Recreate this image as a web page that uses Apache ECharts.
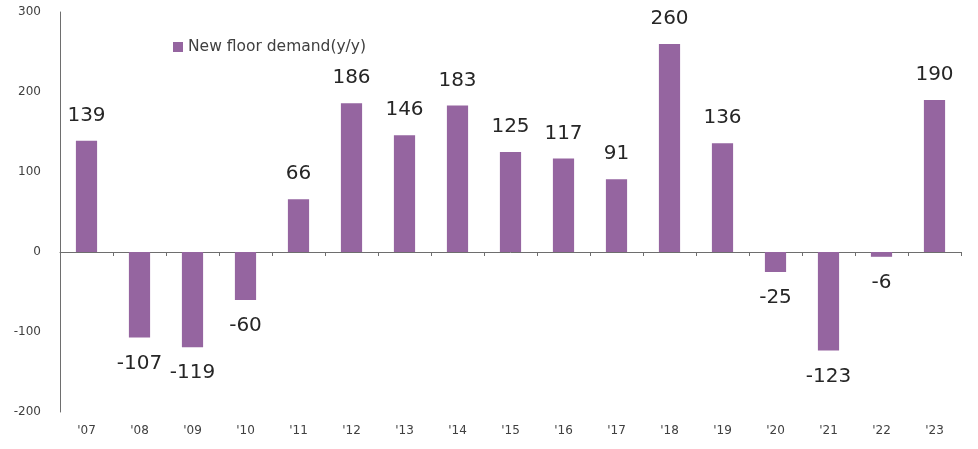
<!DOCTYPE html>
<html><head><meta charset="utf-8">
<script src="https://cdn.jsdelivr.net/npm/echarts@6/dist/echarts.min.js"></script>
<style>html,body{margin:0;padding:0;background:#fff}#c{width:978px;height:449px}</style>
</head><body><div id="c"></div>
<script>
const categories = ["'07","'08","'09","'10","'11","'12","'13","'14","'15","'16","'17","'18","'19","'20","'21","'22","'23"];
const seriesName = "New floor demand(y/y)";
const values = [139,-107,-119,-60,66,186,146,183,125,117,91,260,136,-25,-123,-6,190];
const yMin = -200, yMax = 300, yStep = 100;

const FONT = "DejaVu Sans";
const chart = echarts.init(document.getElementById('c'), null, {renderer:'canvas'});
chart.setOption({
  animation:false,
  textStyle:{fontFamily:FONT},
  legend:{
    left:168, top:34, itemWidth:10, itemHeight:10, itemGap:6,
    icon:'rect',
    textStyle:{fontFamily:FONT, fontSize:15.5, color:'#404040'},
    data:[seriesName]
  },
  grid:{left:60, right:17, top:12, bottom:37, containLabel:false, outerBoundsMode:'none'},
  xAxis:[{
    type:'category', data:categories, position:'bottom',
    axisLine:{show:false, onZero:false},
    axisTick:{show:false},
    axisLabel:{margin:13, fontFamily:FONT, fontSize:12, color:'#404040'},
    splitLine:{show:false}
  },{
    type:'category', data:categories, position:'top',
    axisLine:{show:true, onZero:true, lineStyle:{color:'#6e6e6e', width:1}},
    axisTick:{show:true, inside:true, length:4, lineStyle:{color:'#6e6e6e'}},
    axisLabel:{show:false},
    splitLine:{show:false}
  }],
  yAxis:{
    type:'value', min:yMin, max:yMax, interval:yStep,
    axisLine:{show:true, lineStyle:{color:'#6e6e6e', width:1}},
    axisTick:{show:false},
    axisLabel:{margin:19, fontFamily:FONT, fontSize:12, color:'#404040'},
    splitLine:{show:false}
  },
  series:[{
    name:seriesName, type:'bar', barWidth:'40%', xAxisIndex:0,
    itemStyle:{color:'#9565a0'},
    data: values.map(v => ({
      value:v,
      label:{show:true, position: v < 0 ? 'bottom' : 'top', distance: v < 0 ? 16 : 15,
        fontFamily:FONT, fontSize:20, color:'#262626'}
    }))
  }]
});
</script></body></html>
